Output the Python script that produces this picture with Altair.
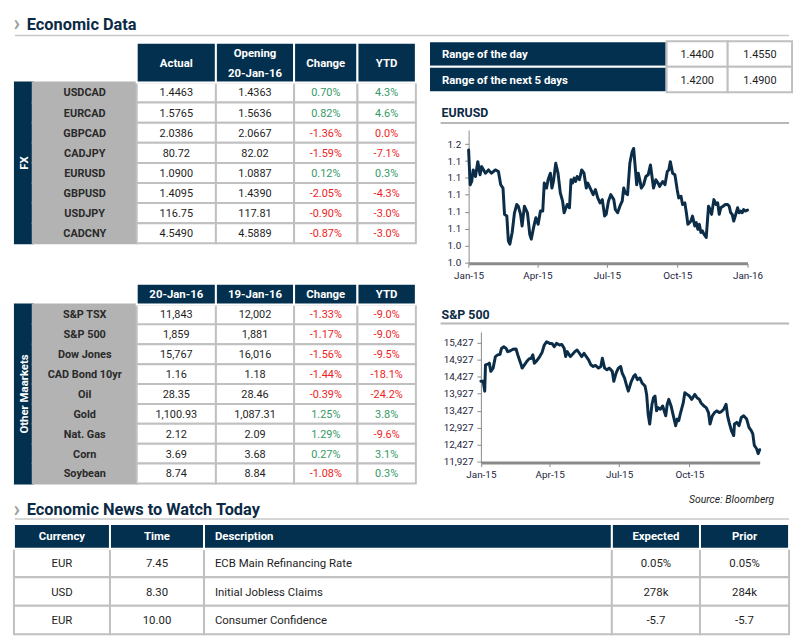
import altair as alt
import pandas as pd

# ---------------- data ----------------
fx_pairs = ["USDCAD", "EURCAD", "GBPCAD", "CADJPY", "EURUSD", "GBPUSD", "USDJPY", "CADCNY"]
fx_actual = ["1.4463", "1.5765", "2.0386", "80.72", "1.0900", "1.4095", "116.75", "4.5490"]
fx_opening = ["1.4363", "1.5636", "2.0667", "82.02", "1.0887", "1.4390", "117.81", "4.5889"]
fx_change = [0.70, 0.82, -1.36, -1.59, 0.12, -2.05, -0.90, -0.87]
fx_ytd = [4.3, 4.6, -0.02, -7.1, 0.3, -4.3, -3.0, -3.0]
fx_headers = ["Actual", "Opening\n20-Jan-16", "Change", "YTD"]

mk_names = ["S&P TSX", "S&P 500", "Dow Jones", "CAD Bond 10yr", "Oil", "Gold", "Nat. Gas", "Corn", "Soybean"]
mk_today = ["11,843", "1,859", "15,767", "1.16", "28.35", "1,100.93", "2.12", "3.69", "8.74"]
mk_prev = ["12,002", "1,881", "16,016", "1.18", "28.46", "1,087.31", "2.09", "3.68", "8.84"]
mk_change = [-1.33, -1.17, -1.56, -1.44, -0.39, 1.25, 1.29, 0.27, -1.08]
mk_ytd = [-9.0, -9.0, -9.5, -18.1, -24.2, 3.8, -9.6, 3.1, 0.3]
mk_headers = ["20-Jan-16", "19-Jan-16", "Change", "YTD"]

range_labels = ["Range of the day", "Range of the next 5 days"]
range_low = ["1.4400", "1.4200"]
range_high = ["1.4550", "1.4900"]

news_headers = ["Currency", "Time", "Description", "Expected", "Prior"]
news_currency = ["EUR", "USD", "EUR"]
news_time = ["7.45", "8.30", "10.00"]
news_desc = ["ECB Main Refinancing Rate", "Initial Jobless Claims", "Consumer Confidence"]
news_expected = ["0.05%", "278k", "-5.7"]
news_prior = ["0.05%", "284k", "-5.7"]

# EURUSD daily series (days since 1 Jan 2015, value)
eur_days = [0, 2, 4, 6, 9, 12, 15, 17, 22, 26,
            30, 35, 39, 42, 45, 47, 50, 52, 54, 57,
            60, 63, 65, 68, 70, 73, 77, 80, 82, 85,
            88, 91, 94, 97, 99, 102, 104, 107, 109, 111,
            114, 117, 120, 123, 125, 129, 132, 134, 136, 138,
            140, 142, 145, 148, 151, 154, 156, 160, 163, 166,
            169, 172, 175, 178, 180, 183, 186, 190, 192, 195,
            198, 201, 203, 205, 208, 211, 214, 216, 218, 220,
            222, 224, 226, 229, 232, 235, 238, 240, 242, 245,
            248, 250, 254, 257, 260, 262, 264, 267, 270, 273,
            275, 278, 280, 283, 285, 287, 289, 291, 293, 296,
            298, 300, 302, 304, 306, 308, 311, 314, 316, 318,
            321, 324, 326, 328, 330, 333, 336, 339, 341, 343,
            345, 347, 349, 352, 354, 356, 358, 360, 362, 365]
eur_vals = [1.1530, 1.1119, 1.1158, 1.1295, 1.1217, 1.1393, 1.1237, 1.1334, 1.1256, 1.1295,
            1.1256, 1.1295, 1.1276, 1.1119, 1.1080, 1.0768, 1.0748, 1.0455, 1.0416, 1.0553,
            1.0787, 1.0885, 1.0865, 1.0768, 1.0631, 1.0865, 1.0787, 1.0533, 1.0475, 1.0611,
            1.0729, 1.0650, 1.0807, 1.0807, 1.1139, 1.1080, 1.1178, 1.1256, 1.1080, 1.1158,
            1.1373, 1.1256, 1.1022, 1.0924, 1.0787, 1.0885, 1.0846, 1.1178, 1.1139, 1.1198,
            1.1158, 1.1217, 1.1178, 1.1295, 1.1256, 1.1080, 1.1139, 1.1061, 1.1002, 1.1061,
            1.0963, 1.0904, 1.0943, 1.0748, 1.0768, 1.0924, 1.1002, 1.0943, 1.0826, 1.0787,
            1.0865, 1.0924, 1.1080, 1.1022, 1.1002, 1.1373, 1.1510, 1.1549, 1.1334, 1.1119,
            1.1256, 1.1178, 1.1080, 1.1119, 1.1217, 1.1237, 1.1354, 1.1217, 1.1080, 1.1178,
            1.1139, 1.1100, 1.1158, 1.1119, 1.1276, 1.1295, 1.1393, 1.1256, 1.1237, 1.1061,
            1.0963, 1.0983, 1.0885, 1.0904, 1.0787, 1.0650, 1.0670, 1.0689, 1.0748, 1.0631,
            1.0670, 1.0592, 1.0650, 1.0553, 1.0572, 1.0533, 1.0494, 1.0865, 1.0826, 1.0768,
            1.0943, 1.0885, 1.0904, 1.0768, 1.0846, 1.0865, 1.0885, 1.0885, 1.0865, 1.0787,
            1.0768, 1.0689, 1.0748, 1.0846, 1.0787, 1.0807, 1.0787, 1.0826, 1.0807, 1.0818]
eur_yticks = [1.02, 1.04, 1.06, 1.08, 1.10, 1.12, 1.14, 1.16]

# "S&P 500" panel series (days since 1 Jan 2015, value)
spx_days = [0, 3, 5, 6, 9, 11, 13, 16, 19, 22,
            25, 27, 30, 33, 35, 38, 42, 46, 49, 52,
            54, 57, 60, 63, 66, 68, 70, 73, 77, 80,
            83, 86, 90, 93, 96, 99, 103, 106, 109, 111,
            113, 117, 120, 123, 126, 129, 132, 135, 138, 141,
            144, 147, 150, 154, 157, 159, 162, 165, 168, 172,
            174, 177, 180, 183, 185, 188, 191, 193, 197, 200,
            202, 205, 208, 211, 213, 215, 217, 219, 221, 224,
            226, 228, 230, 232, 235, 238, 242, 244, 246, 249,
            252, 255, 257, 259, 261, 265, 267, 270, 273, 276,
            280, 283, 286, 288, 292, 295, 298, 300, 303, 306,
            309, 312, 315, 318, 321, 323, 325, 328, 331, 332,
            335, 338, 341, 344, 348, 351, 354, 356, 358, 361,
            363, 365]
spx_vals = [14289, 14289, 14000, 14771, 14791, 14820, 14579, 14675, 15012, 15061,
            15080, 15253, 15302, 15253, 15157, 15176, 15225, 15234, 15012, 14820,
            14675, 14771, 14868, 14945, 14964, 15061, 14820, 14887, 15012, 15128,
            15350, 15446, 15398, 15398, 15302, 15398, 15350, 15369, 15253, 15012,
            15157, 15012, 15080, 15157, 15205, 15109, 15012, 15109, 15012, 14916,
            14771, 14723, 14752, 14675, 14723, 14964, 14675, 14627, 14675, 14579,
            14289, 14530, 14675, 14723, 14530, 14386, 14145, 14000, 14289, 14434,
            14482, 14338, 14386, 14241, 14193, 14145, 13904, 13325, 13036, 13615,
            13807, 13856, 13422, 13518, 13470, 13566, 13277, 13615, 13759, 13566,
            13277, 12988, 13181, 13133, 13325, 13663, 13952, 13904, 13856, 13759,
            13904, 13807, 13759, 13663, 13566, 13518, 13374, 13036, 13277, 13374,
            13422, 13374, 13403, 13470, 13615, 13277, 13084, 12844, 12699, 13036,
            13084, 12988, 13229, 13277, 13181, 12940, 12844, 12747, 12410, 12313,
            12169, 12284]
spx_yticks = [11927, 12427, 12927, 13427, 13927, 14427, 14927, 15427]

# ---------------- style ----------------
NAVY = "#03304e"
GRAY = "#b3b3b3"
BORDER = "#c0c0c0"
GREEN = "#339966"
RED = "#ee1d23"
INK = "#1e1e1e"
LBL = "#2a2a2a"
LINE = "#0b2d48"
AXIS_GRAY = "#8a8a8a"
AXIS_INK = "#1c2541"
TITLE = "#0b2a45"
FONT = "Roboto"
W, H = 796, 634

STYLES = {
    "hdr": dict(size=11.5, weight="bold", align="center"),
    "hdr2": dict(size=11.5, weight="bold", align="center", dy=-9),
    "lbl": dict(size=11, weight="bold", align="center"),
    "val": dict(size=11, weight="normal", align="center"),
    "rot": dict(size=11.5, weight="bold", align="center", angle=270),
    "lhdr": dict(size=11.5, weight="bold", align="left"),
    "lval": dict(size=11.5, weight="normal", align="left"),
    "nval": dict(size=11.5, weight="normal", align="center"),
}


def pg(*vals):
    """page pixel -> chart pixel (page has an 8px margin)"""
    return [v - 8 for v in vals]


def pct(v, d):
    s = f"{v:.{d}f}%"
    return "0.0%" if s == "-0.0%" else s


def table(cells, xcols, ydom, yrows, left_dx=12):
    df = pd.DataFrame(cells)
    df["cx"] = (df.c0 + df.c1) / 2
    df["cy"] = (df.r0 + df.r1) / 2
    xs = alt.Scale(domain=list(range(len(xcols))), range=pg(*xcols), zero=False, nice=False)
    ys = alt.Scale(domain=ydom, range=pg(*yrows), zero=False, nice=False)
    out = [alt.Chart(df).mark_rect(strokeWidth=2).encode(
        x=alt.X("c0:Q", scale=xs, axis=None), x2="c1:Q",
        y=alt.Y("r0:Q", scale=ys, axis=None), y2="r1:Q",
        fill=alt.Fill("fill:N", scale=None), stroke=alt.Stroke("stroke:N", scale=None))]
    for style, sub in df[df.text != ""].groupby("style", sort=False):
        st = STYLES[style]
        left = st["align"] == "left"
        out.append(alt.Chart(sub.reset_index(drop=True)).mark_text(
            font=FONT, fontSize=st["size"], fontWeight=st["weight"], align=st["align"],
            baseline="middle", angle=st.get("angle", 0), dx=left_dx if left else 0,
            dy=st.get("dy", 1), lineBreak="\n", lineHeight=20).encode(
            x=alt.X("c0:Q" if left else "cx:Q", scale=xs, axis=None),
            y=alt.Y("cy:Q", scale=ys, axis=None),
            text="text:N", color=alt.Color("tcolor:N", scale=None)))
    return out


def market_cells(names, col_a, col_b, chg, ytd, headers, strip_label):
    n = len(names)
    cells = [dict(c0=0, c1=1, r0=1, r1=1 + n, fill=NAVY, stroke=NAVY, text=strip_label,
                  tcolor="white", style="rot")]
    for i, name in enumerate(names):
        cells.append(dict(c0=1, c1=2, r0=1 + i, r1=2 + i, fill=GRAY, stroke=GRAY, text=name,
                          tcolor=LBL, style="lbl"))
    for i in range(n):
        vals = [(col_a[i], INK), (col_b[i], INK),
                (pct(chg[i], 2), GREEN if chg[i] > 0 else RED),
                (pct(ytd[i], 1), GREEN if ytd[i] > 0 else RED)]
        for j, (t, c) in enumerate(vals):
            cells.append(dict(c0=2 + j, c1=3 + j, r0=1 + i, r1=2 + i, fill="white", stroke=BORDER,
                              text=t, tcolor=c, style="val"))
    for j, h in enumerate(headers):
        cells.append(dict(c0=2 + j, c1=3 + j, r0=0, r1=1, fill=NAVY, stroke="white", text=h,
                          tcolor="white", style="hdr2" if "\n" in h else "hdr"))
    return cells


TABLE_COLS = [15, 33, 138, 218, 297, 361, 420]
layers = []
layers += table(market_cells(fx_pairs, fx_actual, fx_opening, fx_change, fx_ytd, fx_headers, "FX"),
                TABLE_COLS, [0, 1, 9], [40, 80, 242.5])
layers += table(market_cells(mk_names, mk_today, mk_prev, mk_change, mk_ytd, mk_headers, "Other Maarkets"),
                TABLE_COLS, [0, 1, 10], [283.3, 304.3, 485])

# range table
rcells = []
for i, lab in enumerate(range_labels):
    rcells.append(dict(c0=0, c1=1, r0=i, r1=i + 1, fill=NAVY, stroke="white", text=lab,
                       tcolor="white", style="lhdr"))
for i in range(len(range_labels)):
    rcells.append(dict(c0=1, c1=2, r0=i, r1=i + 1, fill="white", stroke=BORDER, text=range_low[i],
                       tcolor=INK, style="val"))
    rcells.append(dict(c0=2, c1=3, r0=i, r1=i + 1, fill="white", stroke=BORDER, text=range_high[i],
                       tcolor=INK, style="val"))
layers += table(rcells, [433.3, 673.3, 735, 800], [0, 2], [38.3, 90], left_dx=13)

# news table
ncells = []
for i in range(len(news_currency)):
    row = [news_currency[i], news_time[i], news_desc[i], news_expected[i], news_prior[i]]
    for j, t in enumerate(row):
        ncells.append(dict(c0=j, c1=j + 1, r0=1 + i, r1=2 + i, fill="white", stroke=BORDER, text=t,
                           tcolor=INK, style="lval" if j == 2 else "nval"))
for j, h in enumerate(news_headers):
    ncells.append(dict(c0=j, c1=j + 1, r0=0, r1=1, fill=NAVY, stroke="white", text=h,
                       tcolor="white", style="lhdr" if j == 2 else "hdr"))
layers += table(ncells, [14, 111, 206, 618, 707, 797], [0, 1, 4], [526, 551, 637.5], left_dx=11)


# ---------------- line charts ----------------
def D(y, m, d):
    return alt.DateTime(year=y, month=m, date=d)


def line_chart(days, vals, xrng, yrng, ydom, yticks, yfmt, xticks):
    df = pd.DataFrame({"d": days, "v": vals})
    return alt.Chart(df).transform_calculate(
        date="datetime(2015, 0, 1 + datum.d)"
    ).mark_line(color=LINE, strokeWidth=3, strokeJoin="round", strokeCap="round").encode(
        x=alt.X("date:T", title=None,
                scale=alt.Scale(domain=[D(2015, 1, 1), D(2016, 1, 1)], range=pg(*xrng), nice=False),
                axis=alt.Axis(orient="bottom", offset=(yrng[0] - 8) - H, values=xticks, format="%b-%y",
                              labelFlush=False, labelOverlap=False, grid=False,
                              domainColor=AXIS_GRAY, domainWidth=3, tickColor=AXIS_GRAY, tickSize=4,
                              tickWidth=1, labelFont=FONT, labelFontSize=10, labelColor=AXIS_INK,
                              labelPadding=3)),
        y=alt.Y("v:Q", title=None,
                scale=alt.Scale(domain=ydom, range=pg(*yrng), zero=False, nice=False),
                axis=alt.Axis(orient="left", offset=-(xrng[0] - 8), values=yticks, format=yfmt,
                              labelOverlap=False, grid=False, domainColor=AXIS_GRAY, domainWidth=1,
                              tickColor=AXIS_GRAY, tickSize=4, tickWidth=1, labelFont=FONT,
                              labelFontSize=10, labelColor=AXIS_INK, labelPadding=4)),
    )


layers.append(line_chart(eur_days, eur_vals, (473.3, 755), (262.7, 128), [1.0188, 1.1768], eur_yticks, ".1f",
                         [D(2015, 1, 1), D(2015, 4, 1), D(2015, 7, 1), D(2015, 10, 1), D(2016, 1, 1)]))
layers.append(line_chart(spx_days, spx_vals, (485.7, 767.3), (464, 332), [11907, 15734], spx_yticks, ",d",
                         [D(2015, 1, 1), D(2015, 4, 1), D(2015, 7, 1), D(2015, 10, 1)]))

# ---------------- titles / decorations ----------------
dummy = pd.DataFrame({"t": [""]})


def label(txt, x, y, size, color, weight="bold", align="left", style="normal"):
    return alt.Chart(pd.DataFrame({"t": [txt]})).mark_text(
        font=FONT, fontSize=size, fontWeight=weight, fontStyle=style, color=color, align=align,
        baseline="alphabetic").encode(x=alt.value(x - 8), y=alt.value(y - 8), text="t:N")


def hline(x1, x2, y, color, width):
    return alt.Chart(dummy).mark_rule(color=color, strokeWidth=width).encode(
        x=alt.value(x1 - 8), x2=alt.value(x2 - 8), y=alt.value(y - 8))


layers += [
    label("\u203a", 13.5, 27.5, 22, "#a0a0a0"),
    label("Economic Data", 27, 27, 16.5, TITLE),
    hline(15, 797, 32.5, "#c8c8c8", 1.5),
    label("EURUSD", 446, 115, 12.5, TITLE),
    hline(445, 797, 121, "#b8b8b8", 2),
    label("S&P 500", 446, 318.5, 12.5, TITLE),
    hline(445, 797, 323.5, "#b8b8b8", 2),
    label("Source: Bloomberg", 782, 505, 10.5, INK, weight="normal", align="right", style="italic"),
    label("\u203a", 13.5, 517.5, 22, "#a0a0a0"),
    label("Economic News to Watch Today", 27, 517, 16.5, TITLE),
    hline(15, 797, 521, "#c8c8c8", 1.5),
]

chart = alt.layer(*layers).resolve_scale(x="independent", y="independent").properties(
    width=W, height=H, autosize=alt.AutoSizeParams(type="none"), padding=0, background="white"
).configure_view(stroke=None)

chart.save("out.html", embed_options={"renderer": "svg", "actions": False})
